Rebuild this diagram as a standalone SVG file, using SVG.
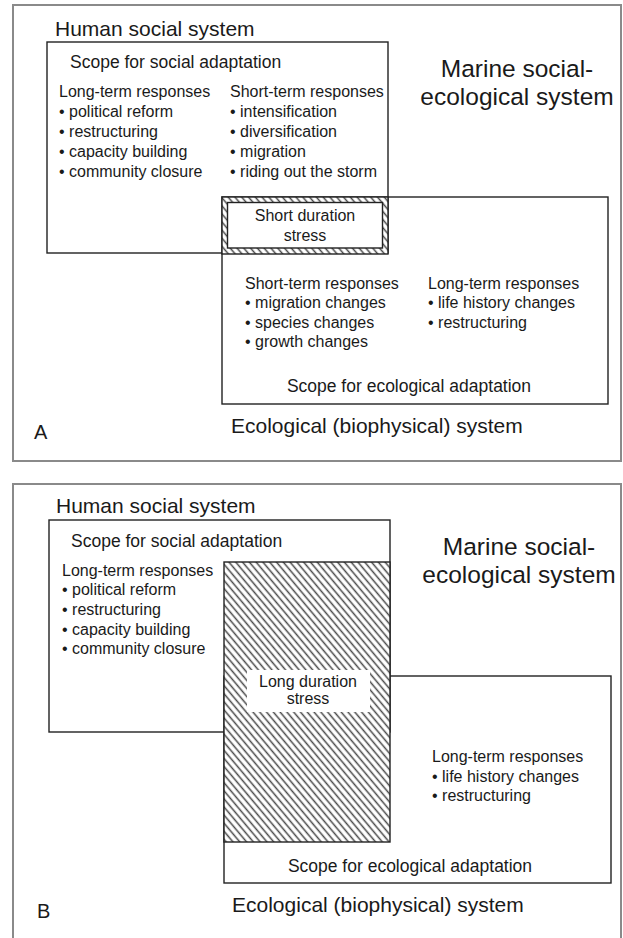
<svg xmlns="http://www.w3.org/2000/svg" width="623" height="938" viewBox="0 0 623 938">
<defs>
<pattern id="hatch" width="5.2" height="5.2" patternUnits="userSpaceOnUse" patternTransform="rotate(-40)">
<rect width="5.2" height="5.2" fill="#fff"/>
<line x1="1.3" y1="0" x2="1.3" y2="5.2" stroke="#4a4a4a" stroke-width="1.5"/>
</pattern>
<style>
text{font-family:"Liberation Sans",Arial,sans-serif;fill:#1a1a1a}
.big{font-size:21px}
.mar{font-size:24.5px;text-anchor:middle}
.hd{font-size:17.5px}
.bd{font-size:16px}
.mid{text-anchor:middle}
.frame{fill:none;stroke:#8a8a8a;stroke-width:2}
.box{fill:none;stroke:#222;stroke-width:1.4}
</style>
</defs>
<rect width="623" height="938" fill="#fff"/>

<g id="panelA">
<rect class="frame" x="13" y="5" width="608" height="456"/>
<g id="A-social-system">
<text class="big" x="55" y="36">Human social system</text>
<rect class="box" x="47" y="42" width="341" height="211"/>
<text class="hd" x="70" y="68">Scope for social adaptation</text>
<text class="bd" x="59" y="97">Long-term responses</text>
<text class="bd" x="59" y="117">• political reform</text>
<text class="bd" x="59" y="137">• restructuring</text>
<text class="bd" x="59" y="157">• capacity building</text>
<text class="bd" x="59" y="177">• community closure</text>
<text class="bd" x="230" y="97">Short-term responses</text>
<text class="bd" x="230" y="117">• intensification</text>
<text class="bd" x="230" y="137">• diversification</text>
<text class="bd" x="230" y="157">• migration</text>
<text class="bd" x="230" y="177">• riding out the storm</text>
</g>
<g id="A-marine">
<text class="mar" x="517" y="77">Marine social-</text>
<text class="mar" x="517" y="105">ecological system</text>
</g>
<g id="A-eco-system">
<rect class="box" x="222" y="197" width="386" height="207"/>
<text class="bd" x="245" y="289">Short-term responses</text>
<text class="bd" x="245" y="308">• migration changes</text>
<text class="bd" x="245" y="328">• species changes</text>
<text class="bd" x="245" y="347">• growth changes</text>
<text class="bd" x="428" y="289">Long-term responses</text>
<text class="bd" x="428" y="308">• life history changes</text>
<text class="bd" x="428" y="328">• restructuring</text>
<text class="hd mid" x="409" y="392">Scope for ecological adaptation</text>
<text class="big" x="231" y="433">Ecological (biophysical) system</text>
</g>
<g id="A-stress">
<rect x="222" y="197" width="166" height="57" fill="url(#hatch)" stroke="#222" stroke-width="1.4"/>
<rect x="227.5" y="202.5" width="155" height="45.5" fill="#fff" stroke="#222" stroke-width="1.4"/>
<text class="bd mid" x="305" y="221">Short duration</text>
<text class="bd mid" x="305" y="241">stress</text>
</g>
<text x="34" y="439" style="font-size:20px">A</text>
</g>

<g id="panelB">
<path class="frame" d="M13,945 V484 H621 V945"/>
<g id="B-social-system">
<text class="big" x="56" y="513">Human social system</text>
<rect class="box" x="49" y="520" width="341" height="212"/>
<text class="hd" x="71" y="547">Scope for social adaptation</text>
<text class="bd" x="62" y="576">Long-term responses</text>
<text class="bd" x="62" y="595">• political reform</text>
<text class="bd" x="62" y="615">• restructuring</text>
<text class="bd" x="62" y="635">• capacity building</text>
<text class="bd" x="62" y="654">• community closure</text>
</g>
<g id="B-marine">
<text class="mar" x="519" y="555">Marine social-</text>
<text class="mar" x="519" y="583">ecological system</text>
</g>
<g id="B-eco-system">
<rect class="box" x="224" y="676" width="387" height="207"/>
<text class="bd" x="432" y="762">Long-term responses</text>
<text class="bd" x="432" y="782">• life history changes</text>
<text class="bd" x="432" y="801">• restructuring</text>
<text class="hd mid" x="410" y="872">Scope for ecological adaptation</text>
<text class="big" x="232" y="912">Ecological (biophysical) system</text>
</g>
<g id="B-stress">
<rect x="224" y="562" width="166" height="280" fill="url(#hatch)" stroke="#222" stroke-width="1.4"/>
<rect x="247" y="670" width="123" height="42" fill="#fff"/>
<text class="bd mid" x="308" y="687">Long duration</text>
<text class="bd mid" x="308" y="704">stress</text>
</g>
<text x="37" y="918" style="font-size:20px">B</text>
</g>
<g id="connectors"/>
</svg>
